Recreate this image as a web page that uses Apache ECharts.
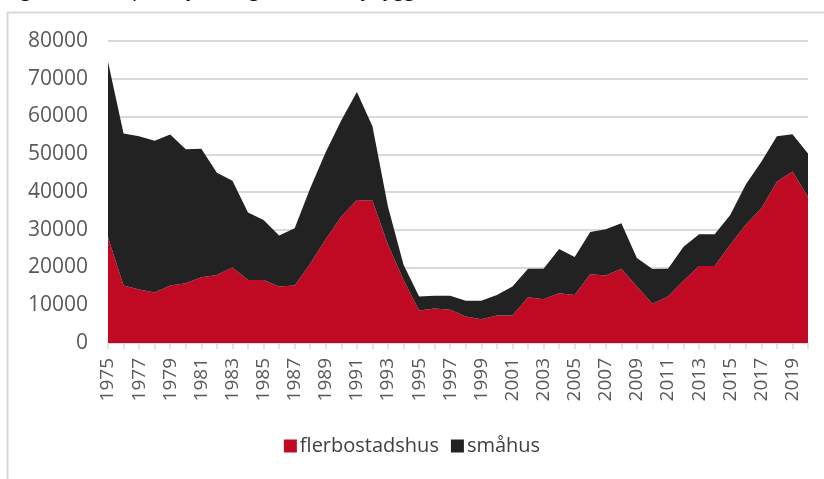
<!DOCTYPE html>
<html>
<head>
<meta charset="utf-8">
<script src="https://cdn.jsdelivr.net/npm/echarts@6/dist/echarts.min.js"></script>
<style>
  html, body { margin: 0; padding: 0; background: #fff; }
  #chart { width: 824px; height: 479px; }
</style>
</head>
<body>
<div id="chart"></div>
<script>
const years = []
for (let y = 1975; y <= 2020; y++) years.push(String(y))

const flerbostadshus = [
  28000, 15200, 14200, 13400, 15200, 15800, 17400, 18000, 20000, 16700,
  16700, 15000, 15200, 21000, 27500, 33500, 37900, 37700, 26000, 16700,
  8600, 9150, 8800, 7000, 6300, 7300, 7300, 12150, 11600, 13200,
  12700, 18200, 17900, 19700, 15000, 10400, 12300, 16500, 20400, 20400,
  26000, 31300, 35600, 42700, 45400, 38700
]
const smahus = [
  46500, 40300, 40600, 40200, 40000, 35500, 34050, 27100, 23000, 17900,
  15900, 13500, 15200, 20000, 23100, 25500, 28600, 19700, 10100, 4000,
  3700, 3350, 3700, 4200, 4900, 5400, 7700, 7550, 8100, 11700,
  10100, 11200, 12200, 12000, 7500, 9200, 7400, 9000, 8400, 8400,
  7900, 10700, 12400, 12100, 9900, 11500
]
const yTicks = { min: 0, max: 80000, interval: 10000 }

const textColor = '#595959'
const gridColor = '#d9d9d9'
const font = '"Open Sans", "Liberation Sans", sans-serif'

const chart = echarts.init(document.getElementById('chart'))
const option = {
  animation: false,
  color: ['#c00a23', '#222222'],
  textStyle: { fontFamily: font },
  graphic: [
    {
      type: 'rect',
      shape: { x: 7.5, y: 12.5, width: 840, height: 500 },
      style: { fill: 'none', stroke: gridColor, lineWidth: 2 },
      silent: true
    },
    {
      type: 'text',
      left: 5,
      top: -20,
      style: {
        text: 'Figur 1, Antal påbörjade lägenheter i nybyggda hus',
        fontSize: 20,
        fontFamily: font,
        fill: '#000'
      },
      silent: true
    }
  ],
  grid: {
    left: 108,
    right: 16,
    top: 41,
    bottom: 136
  },
  legend: {
    bottom: 18,
    left: 'center',
    icon: 'rect',
    itemWidth: 13,
    itemHeight: 13,
    itemGap: 12,
    textStyle: { fontSize: 20, color: '#404040', fontFamily: font, padding: [0, 0, 0, -2] },
    data: ['flerbostadshus', 'småhus']
  },
  xAxis: {
    type: 'category',
    boundaryGap: false,
    data: years,
    axisLine: { lineStyle: { color: gridColor, width: 1.5 } },
    axisTick: { interval: 0, length: 6, lineStyle: { color: gridColor, width: 1.5 } },
    axisLabel: {
      interval: 1,
      rotate: 90,
      margin: 15,
      fontSize: 19,
      color: textColor,
      fontFamily: font
    }
  },
  yAxis: {
    type: 'value',
    min: yTicks.min,
    max: yTicks.max,
    interval: yTicks.interval,
    axisLine: { show: false },
    axisTick: { show: false },
    splitLine: { lineStyle: { color: gridColor, width: 2 } },
    axisLabel: {
      margin: 20,
      fontSize: 21,
      color: textColor,
      fontFamily: font,
      formatter: v => String(v)
    }
  },
  series: [
    {
      name: 'flerbostadshus',
      type: 'line',
      stack: 'total',
      data: flerbostadshus,
      symbol: 'none',
      lineStyle: { width: 0 },
      areaStyle: { opacity: 1 }
    },
    {
      name: 'småhus',
      type: 'line',
      stack: 'total',
      data: smahus,
      symbol: 'none',
      lineStyle: { width: 0 },
      areaStyle: { opacity: 1 }
    }
  ]
}
chart.setOption(option)
</script>
</body>
</html>
